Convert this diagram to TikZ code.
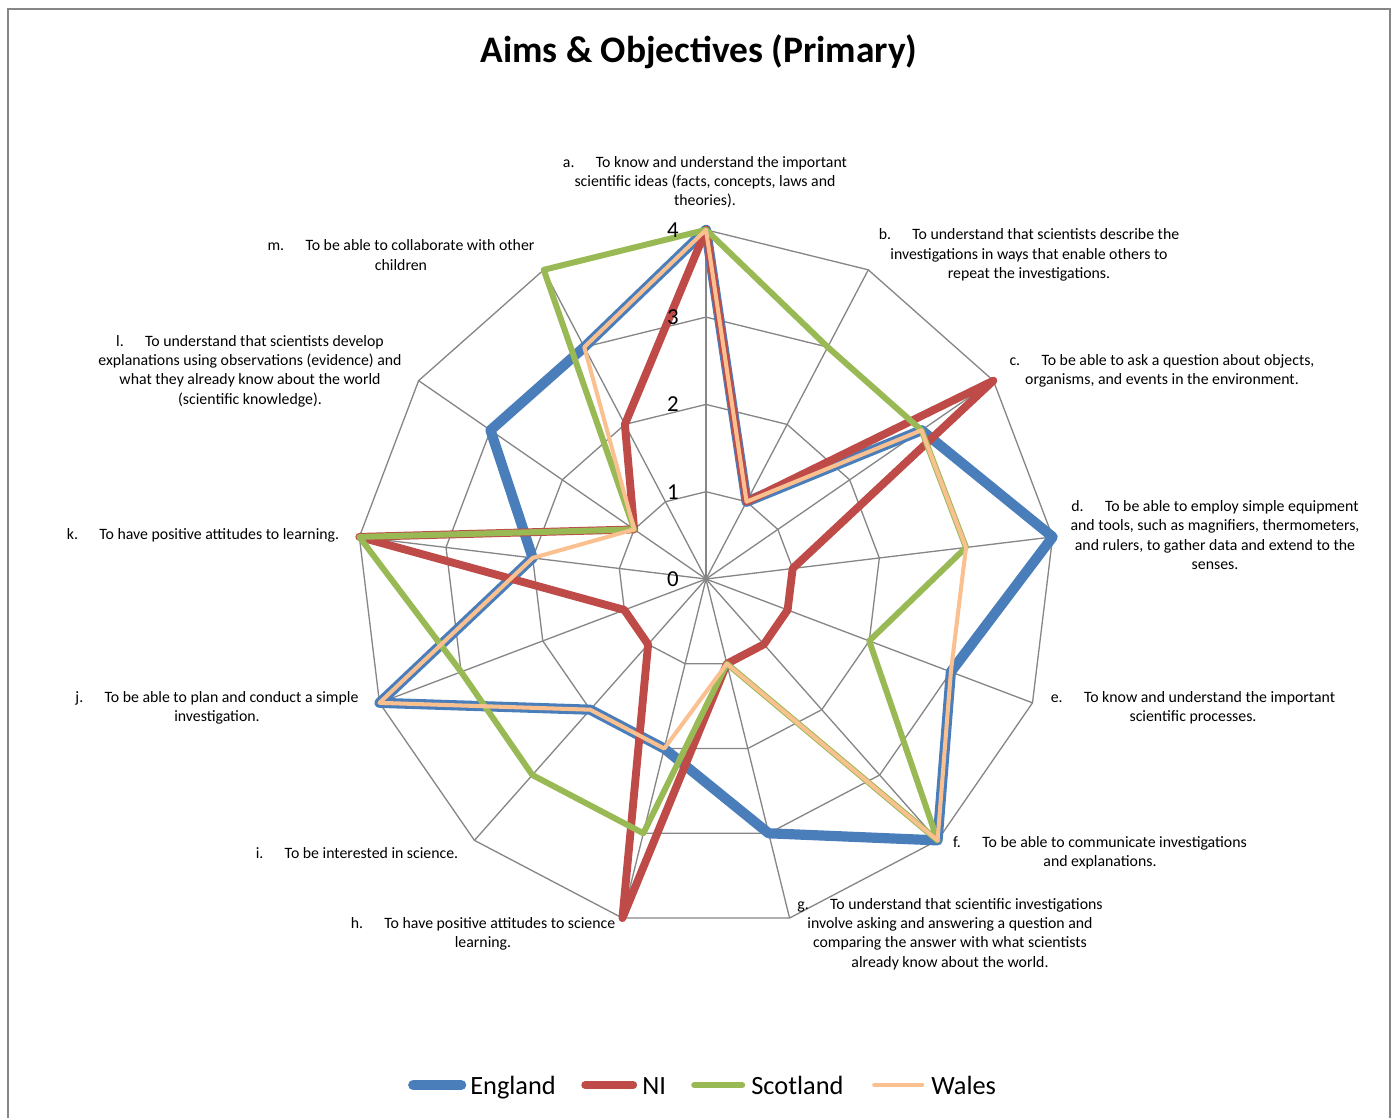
\documentclass[tikz,border=0pt]{standalone}
\usepackage{fontspec}
\setmainfont{Carlito}
\usepackage{tikz}
\usepackage{xcolor}
\definecolor{gridgray}{HTML}{868686}
\definecolor{engblue}{HTML}{4A7EBB}
\definecolor{nired}{HTML}{BE4B48}
\definecolor{scogreen}{HTML}{98B954}
\definecolor{walesorange}{HTML}{FAC090}

\begin{document}
\begin{tikzpicture}[x=0.02cm,y=-0.02cm,
        grid/.style={gridgray,line width=0.75pt},
        england/.style={engblue,line width=5.8pt,line join=round,line cap=round},
        ni/.style={nired,line width=4.5pt,line join=round,line cap=round},
        scotland/.style={scogreen,line width=3.4pt,line join=round,line cap=round},
        wales/.style={walesorange,line width=2.3pt,line join=round,line cap=round},
        axislabel/.style={align=center,font=\fontsize{9}{11}\selectfont,inner sep=0pt},
        legendtext/.style={anchor=base west,inner sep=0pt,font=\fontsize{15}{18}\selectfont}]
        \useasboundingbox (0,0) rectangle (1394,1117);
        \draw[gridgray,line width=1.1pt] (8,9) rectangle (1390,1140);
        \node[font=\fontsize{21.3}{25}\selectfont\bfseries] (title) at (699,52) {Aims \& Objectives (Primary)};

        \begin{scope}[shift={(706,579)}]
        \foreach \r in {1,2,3,4}
        \draw[grid] (-90:{\r*87.3}) \foreach \i in {1,...,12}{ -- ({-90+\i*360/13}:{\r*87.3})} -- cycle;
        \foreach \i in {1,...,12}
        \draw[grid] (0,0) -- ({-90+\i*360/13}:349.2);
        \draw[gridgray,line width=1.1pt] (0,0) -- (-90:349.2);

        \foreach \v [count=\i from 0] in {4,1,3,4,3,4,3,2,2,4,2,3,3}
        \coordinate (eng\i) at ({-90+\i*360/13}:{\v*87.3});
        \foreach \v [count=\i from 0] in {4,1,4,1,1,1,1,4,1,1,4,1,2}
        \coordinate (ni\i) at ({-90+\i*360/13}:{\v*87.3});
        \foreach \v [count=\i from 0] in {4,3,3,3,2,4,1,3,3,3,4,1,4}
        \coordinate (sco\i) at ({-90+\i*360/13}:{\v*87.3});
        \foreach \v [count=\i from 0] in {4,1,3,3,3,4,1,2,2,4,2,1,3}
        \coordinate (wal\i) at ({-90+\i*360/13}:{\v*87.3});

        \draw[england] (eng0) \foreach \i in {1,...,12}{ -- (eng\i)} -- cycle;
        \draw[ni] (ni0) \foreach \i in {1,...,12}{ -- (ni\i)} -- cycle;
        \draw[scotland] (sco0) \foreach \i in {1,...,12}{ -- (sco\i)} -- cycle;
        \draw[wales] (wal0) \foreach \i in {1,...,12}{ -- (wal\i)} -- cycle;

        \foreach \v in {0,1,2,3,4}
        \node[anchor=east,inner sep=0pt,font=\fontsize{13}{15}\selectfont] (tick\v) at (-27,{-\v*87.3}) {\v};
        \end{scope}

        \node[axislabel] (laba) at (705,182) {a.\hspace{1.35em}To know and understand the important\\scientific ideas (facts, concepts, laws and\\theories).};
        \node[axislabel] (labb) at (1029,255) {b.\hspace{1.35em}To understand that scientists describe the\\investigations in ways that enable others to\\repeat the investigations.};
        \node[axislabel] (labc) at (1162,371) {c.\hspace{1.35em}To be able to ask a question about objects,\\organisms, and events in the environment.};
        \node[axislabel] (labd) at (1215,535) {d.\hspace{1.35em}To be able to employ simple equipment\\and tools, such as magnifiers, thermometers,\\and rulers, to gather data and extend to the\\senses.};
        \node[axislabel] (labe) at (1193,708) {e.\hspace{1.35em}To know and understand the important\\scientific processes.};
        \node[axislabel] (labf) at (1100,853) {f.\hspace{1.35em}To be able to communicate investigations\\and explanations.};
        \node[axislabel] (labg) at (950,934) {g.\hspace{1.35em}To understand that scientific investigations\\involve asking and answering a question and\\comparing the answer with what scientists\\already know about the world.};
        \node[axislabel] (labh) at (483,934) {h.\hspace{1.35em}To have positive attitudes to science\\learning.};
        \node[axislabel] (labi) at (357,853) {i.\hspace{1.35em}To be interested in science.};
        \node[axislabel] (labj) at (217,708) {j.\hspace{1.35em}To be able to plan and conduct a simple\\investigation.};
        \node[axislabel] (labk) at (203,535) {k.\hspace{1.35em}To have positive attitudes to learning.};
        \node[axislabel] (labl) at (250,371) {l.\hspace{1.35em}To understand that scientists develop\\explanations using observations (evidence) and\\what they already know about the world\\(scientific knowledge).};
        \node[axislabel] (labm) at (401,255) {m.\hspace{1.35em}To be able to collaborate with other\\children};

        \node[legendtext] (legeng) at (470,1094) {England};
        \node[legendtext] (legni) at (642,1094) {NI};
        \node[legendtext] (legsco) at (751,1094) {Scotland};
        \node[legendtext] (legwal) at (931,1094) {Wales};
        \draw[england] ([xshift=-5pt]legeng.base west) ++(0,-9) -- ++(-48,0);
        \draw[ni] ([xshift=-5pt]legni.base west) ++(0,-9) -- ++(-48,0);
        \draw[scotland] ([xshift=-5pt]legsco.base west) ++(0,-9) -- ++(-48,0);
        \draw[wales] ([xshift=-5pt]legwal.base west) ++(0,-9) -- ++(-48,0);
\end{tikzpicture}
\end{document}
